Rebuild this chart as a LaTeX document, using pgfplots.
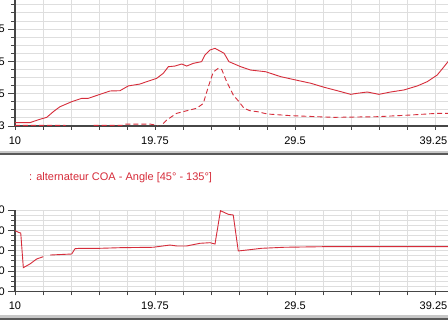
\documentclass[border=0pt]{standalone}
\usepackage{pgfplots}
\pgfplotsset{compat=1.18}
\usepackage{fontspec}
\setmainfont{Liberation Sans}
\definecolor{trace}{RGB}{214,44,58}
\definecolor{gridc}{RGB}{222,222,222}
\definecolor{axisc}{RGB}{70,70,70}
\pgfplotsset{
  panel/.style={
    scale only axis, axis lines=left,
    axis line style={-, draw=axisc, line width=1.4pt},
    xmin=10, xmax=41, width=445.1pt,
    xtick={10,19.75,29.5,39.25}, xticklabels={10,19.75,29.5,\hspace*{-3pt}39.25},
    minor x tick num=4,
    grid=both,
    grid style={draw=gridc, line width=0.9pt},
    minor grid style={draw=gridc, line width=0.9pt},
    tick align=outside, major tick length=7pt, minor tick length=4pt,
    tick style={draw=axisc, line width=0.9pt},
    xtick style={/pgfplots/major tick length=4pt, /pgfplots/minor tick length=4pt},
    tick label style={font=\fontsize{11}{13}\selectfont, text=black},
    yticklabel style={xshift=0.4pt},
    clip=true,
  }
}
\begin{document}
\begin{tikzpicture}[x=1pt,y=1pt]
\useasboundingbox (0,0) rectangle (448,323);
\fill[white] (0,0) rectangle (448,323);
\clip (0,0) rectangle (448,323);
% window separators
\fill[black!22] (0,169.5) rectangle (448,172.3);
\fill[black!65] (0,168.3) rectangle (448,169.7);
\fill[black!22] (0,4.3) rectangle (448,8);
\fill[black!65] (0,3) rectangle (448,4.5);
% top panel
\begin{axis}[panel, at={(15pt,197pt)}, anchor=south west,
  ymin=3, ymax=4, height=129.2pt,
  ytick={3,3.25,3.5,3.75,4}, yticklabels={3,5,5,5,{}},
  minor y tick num=3]
\addplot[trace, line width=0.9pt] coordinates {
(10,3.026) (11.04,3.026) (11.74,3.052) (12.21,3.067) (12.67,3.111) (13.13,3.149)
(13.95,3.188) (14.65,3.214) (15.10,3.214) (15.92,3.245) (16.62,3.271) (17.31,3.273)
(17.89,3.310) (18.71,3.325) (19.17,3.343) (19.87,3.369) (20.33,3.408) (20.68,3.459)
(21.14,3.464) (21.61,3.480) (21.96,3.464) (22.42,3.485) (23.00,3.498) (23.23,3.550)
(23.58,3.588) (23.93,3.601) (24.56,3.563) (24.90,3.498) (25.72,3.459) (26.41,3.433)
(27.46,3.420) (28.50,3.382) (29.55,3.356) (30.59,3.331) (31.52,3.300) (32.45,3.273)
(33.38,3.245) (33.84,3.253) (34.54,3.263) (35.35,3.245) (36.16,3.263) (37.09,3.279)
(38.02,3.310) (38.71,3.343) (39.41,3.395) (39.88,3.459) (40.16,3.498) (40.43,3.55)
};
\addplot[trace, line width=0.9pt, dash pattern=on 5pt off 3pt] coordinates {
(10,3.005) (13.48,3.005) (13.55,2.994) (15.29,2.994) (15.36,3.005) (17.45,3.005)
(17.66,3.015) (19.40,3.015) (19.75,3.008) (20.10,2.992) (20.56,3.046) (21.26,3.098)
(21.96,3.118) (22.65,3.137) (23.11,3.174) (23.46,3.302) (23.81,3.418) (24.16,3.447)
(24.40,3.437) (24.74,3.343) (25.20,3.240) (25.60,3.188) (25.95,3.137) (26.37,3.118)
(26.87,3.111) (27.57,3.093) (29.20,3.080) (32.22,3.067) (35.23,3.072) (37.56,3.085)
(39.41,3.098) (40.43,3.098)
};
\end{axis}
% bottom panel title
\node[anchor=west, text=trace, font=\fontsize{11}{13}\selectfont, inner sep=0pt] at (29,145) {: alternateur COA - Angle [45° - 135°]};
% bottom panel
\begin{axis}[panel, at={(15pt,31.5pt)}, anchor=south west,
  ymin=60, ymax=140, height=81.5pt,
  ytick={60,80,100,120,140}, yticklabels={0,0,0,0,0},
  minor y tick num=3, unbounded coords=jump]
\addplot[trace, line width=0.9pt] coordinates {
(10,119.7) (10.28,117.9) (10.40,117.4) (10.58,83.4) (11.04,87.0) (11.51,91.9)
(11.97,94.2) (12.2,nan) (12.44,95.8) (13.95,96.8) (14.18,102.0) (14.53,102.4)
(15.92,102.4) (17.31,103.0) (19.61,103.4) (20.79,105.6) (21.26,104.7) (21.96,104.7)
(22.88,107.3) (23.58,107.9) (23.93,106.6) (24.31,139.3) (24.85,135.8) (25.20,135.1)
(25.55,99.8) (26.14,100.7) (27.18,102.4) (28.73,103.4) (31.52,104.0) (40.5,104.0)
};
\end{axis}
\end{tikzpicture}
\end{document}
